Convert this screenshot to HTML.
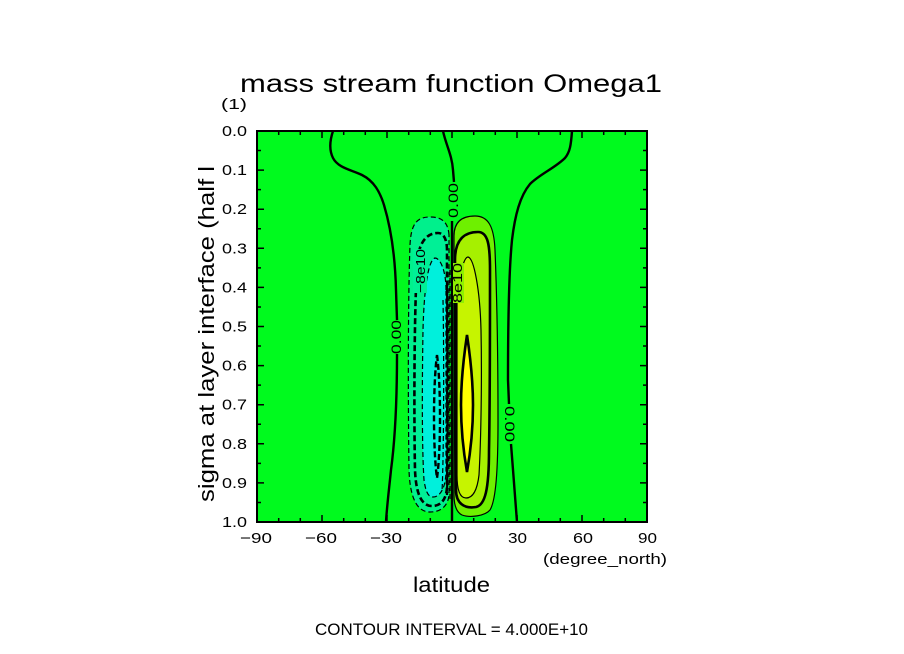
<!DOCTYPE html>
<html>
<head>
<meta charset="utf-8">
<style>
  html, body { margin: 0; padding: 0; background: #ffffff; }
  svg { display: block; }
  text { font-family: "Liberation Sans", "DejaVu Sans", sans-serif; fill: #000; }
</style>
</head>
<body>
<svg width="904" height="654" viewBox="0 0 904 654" xmlns="http://www.w3.org/2000/svg">
  <rect x="0" y="0" width="904" height="654" fill="#ffffff"/>

  <!-- Title -->
  <text x="240" y="92" font-size="25" textLength="422" lengthAdjust="spacingAndGlyphs">mass stream function Omega1</text>
  <text x="221" y="109" font-size="15" textLength="26" lengthAdjust="spacingAndGlyphs">(1)</text>

  <!-- plot background -->
  <rect x="257" y="131" width="390" height="391" fill="#00fa1e"/>

  <!-- Positive cell -->
  <path d="M454,236 C454,222 462,216 475,216 C488,216 494,226 495,250 C497,300 498,360 498,420 C498,470 496,500 490,510 C485,516 470,518 462,515 C456,512 454,505 454,495 Z"
        fill="#6ef000" stroke="#000" stroke-width="1.2"/>
  <path d="M455,260 C455,240 464,232 478,232 C488,232 490,245 490,270 C490,330 490,400 489,450 C489,490 485,505 476,507 C464,509 456,503 456,490 Z"
        fill="#a6f000" stroke="#000" stroke-width="2.6"/>
  <path d="M457,300 C459,275 464,257 468,257 C474,258 480,290 481,330 C482,380 481,440 479,475 C477,492 472,498 466,498 C460,498 457,490 457,475 Z"
        fill="#c6f400" stroke="#000" stroke-width="1.2"/>
  <path d="M467,335 C470,355 473,380 473,405 C473,430 470,455 467,472 C464,455 461,430 461,405 C461,380 464,355 467,335 Z"
        fill="#ffff00" stroke="#000" stroke-width="2.6"/>

  <!-- Negative cell -->
  <path d="M449,235 C448,222 442,217 430,217 C416,217 411,225 410,245 C408,300 408,400 409,470 C410,500 418,512 430,512 C442,512 448,505 449,495 Z"
        fill="#00f08c" stroke="#000" stroke-width="1.2" stroke-dasharray="5,3"/>
  <path d="M447,250 C447,240 444,233 438,233 C425,233 418,245 417,265 C414,320 414,420 415,470 C416,495 422,506 432,506 C442,506 447,498 447,485 Z"
        fill="#00f096" stroke="#000" stroke-width="2.6" stroke-dasharray="6,3"/>
  <path d="M446,290 C446,270 440,258 435,258 C428,260 424,290 423,330 C422,390 422,450 424,480 C426,494 429,497 433,497 C440,497 446,488 446,470 Z"
        fill="#00f0dc" stroke="#000" stroke-width="1.2" stroke-dasharray="5,3"/>
  <path d="M437,355 C441,385 441,450 437,478 C433,450 433,385 437,355 Z"
        fill="none" stroke="#000" stroke-width="2.4" stroke-dasharray="6,3"/>
  <path d="M443,300 C444,350 444,450 442,492" fill="none" stroke="#000" stroke-width="1.2" stroke-dasharray="5,3"/>
  <path d="M447,285 C448,350 448,450 447,495" fill="none" stroke="#000" stroke-width="2.2" stroke-dasharray="6,3"/>
  <path d="M450,270 L450,500" fill="none" stroke="#000" stroke-width="1.2" stroke-dasharray="5,3"/>

  <!-- Zero lines -->
  <g fill="none" stroke="#000" stroke-width="2.4">
    <path d="M333,131 C330,140 329,150 333,158 C338,168 352,170 362,175 C374,181 380,192 384,205 C390,225 395,250 396,290 L397,320"/>
    <path d="M397,354 C397,400 395,440 391,470 C389,490 387,505 386,522"/>
    <path d="M443,131 C446,145 452,155 453,170 L454,182"/>
    <path d="M452,221 L452,522"/>
    <path d="M572,131 C571,145 570,152 565,158 C555,168 540,174 530,184 C520,196 515,215 512,240 C509,270 508,320 508,380 L509,404"/>
    <path d="M511,444 C513,470 515,495 517,522"/>
  </g>

  <!-- contour labels -->
  <rect x="413" y="249" width="14" height="44" fill="#00f096"/>
  <text font-size="13" transform="translate(425,293) rotate(-90)" textLength="44" lengthAdjust="spacingAndGlyphs">−8e10</text>
  <rect x="453" y="263" width="11" height="40" fill="#8ef000"/>
  <text font-size="13" transform="translate(462,303) rotate(-90)" textLength="40" lengthAdjust="spacingAndGlyphs">8e10</text>
  <text font-size="14" transform="translate(401,354) rotate(-90)" textLength="34" lengthAdjust="spacingAndGlyphs">0.00</text>
  <text font-size="14" transform="translate(458,218) rotate(-90)" textLength="35" lengthAdjust="spacingAndGlyphs">0.00</text>
  <text font-size="14" transform="translate(505,406) rotate(90)" textLength="36" lengthAdjust="spacingAndGlyphs">0.00</text>

  <!-- Frame -->
  <rect x="257" y="131" width="390" height="391" fill="none" stroke="#000" stroke-width="2"/>

  <!-- Ticks -->
  <g stroke="#000" stroke-width="1.5" fill="none">
    <!-- bottom major -->
    <path d="M322,522v-7M387,522v-7M452,522v-7M517,522v-7M582,522v-7"/>
    <!-- bottom minor -->
    <path d="M278.7,522v-4M300.3,522v-4M343.7,522v-4M365.3,522v-4M408.7,522v-4M430.3,522v-4M473.7,522v-4M495.3,522v-4M538.7,522v-4M560.3,522v-4M603.7,522v-4M625.3,522v-4"/>
    <!-- top major -->
    <path d="M322,131v7M387,131v7M452,131v7M517,131v7M582,131v7"/>
    <!-- top minor -->
    <path d="M278.7,131v4M300.3,131v4M343.7,131v4M365.3,131v4M408.7,131v4M430.3,131v4M473.7,131v4M495.3,131v4M538.7,131v4M560.3,131v4M603.7,131v4M625.3,131v4"/>
    <!-- left major -->
    <path d="M257,170.1h7M257,209.2h7M257,248.3h7M257,287.4h7M257,326.5h7M257,365.6h7M257,404.7h7M257,443.8h7M257,482.9h7"/>
    <!-- left minor -->
    <path d="M257,150.55h4M257,189.65h4M257,228.75h4M257,267.85h4M257,306.95h4M257,346.05h4M257,385.15h4M257,424.25h4M257,463.35h4M257,502.45h4"/>
    <!-- right major -->
    <path d="M647,170.1h-7M647,209.2h-7M647,248.3h-7M647,287.4h-7M647,326.5h-7M647,365.6h-7M647,404.7h-7M647,443.8h-7M647,482.9h-7"/>
    <!-- right minor -->
    <path d="M647,150.55h-4M647,189.65h-4M647,228.75h-4M647,267.85h-4M647,306.95h-4M647,346.05h-4M647,385.15h-4M647,424.25h-4M647,463.35h-4M647,502.45h-4"/>
  </g>

  <!-- Y tick labels -->
  <g font-size="15">
    <text x="222" y="136" textLength="25" lengthAdjust="spacingAndGlyphs">0.0</text>
    <text x="222" y="175.1" textLength="25" lengthAdjust="spacingAndGlyphs">0.1</text>
    <text x="222" y="214.2" textLength="25" lengthAdjust="spacingAndGlyphs">0.2</text>
    <text x="222" y="253.3" textLength="25" lengthAdjust="spacingAndGlyphs">0.3</text>
    <text x="222" y="292.4" textLength="25" lengthAdjust="spacingAndGlyphs">0.4</text>
    <text x="222" y="331.5" textLength="25" lengthAdjust="spacingAndGlyphs">0.5</text>
    <text x="222" y="370.6" textLength="25" lengthAdjust="spacingAndGlyphs">0.6</text>
    <text x="222" y="409.7" textLength="25" lengthAdjust="spacingAndGlyphs">0.7</text>
    <text x="222" y="448.8" textLength="25" lengthAdjust="spacingAndGlyphs">0.8</text>
    <text x="222" y="487.9" textLength="25" lengthAdjust="spacingAndGlyphs">0.9</text>
    <text x="222" y="527" textLength="25" lengthAdjust="spacingAndGlyphs">1.0</text>
  </g>

  <!-- X tick labels -->
  <g font-size="15">
    <text x="240" y="543" textLength="32" lengthAdjust="spacingAndGlyphs">−90</text>
    <text x="305" y="543" textLength="32" lengthAdjust="spacingAndGlyphs">−60</text>
    <text x="370" y="543" textLength="32" lengthAdjust="spacingAndGlyphs">−30</text>
    <text x="447" y="543" textLength="10" lengthAdjust="spacingAndGlyphs">0</text>
    <text x="508" y="543" textLength="19" lengthAdjust="spacingAndGlyphs">30</text>
    <text x="573" y="543" textLength="20" lengthAdjust="spacingAndGlyphs">60</text>
    <text x="638" y="543" textLength="19" lengthAdjust="spacingAndGlyphs">90</text>
  </g>
  <text x="543" y="564" font-size="15" textLength="124" lengthAdjust="spacingAndGlyphs">(degree_north)</text>

  <!-- Axis titles -->
  <text x="413" y="592" font-size="21" textLength="77" lengthAdjust="spacingAndGlyphs">latitude</text>
  <text font-size="22" transform="translate(214,502) rotate(-90)" textLength="336" lengthAdjust="spacingAndGlyphs">sigma at layer interface (half l</text>

  <!-- Footer -->
  <text x="315" y="635" font-size="17" textLength="273" lengthAdjust="spacingAndGlyphs">CONTOUR INTERVAL = 4.000E+10</text>
</svg>
</body>
</html>
